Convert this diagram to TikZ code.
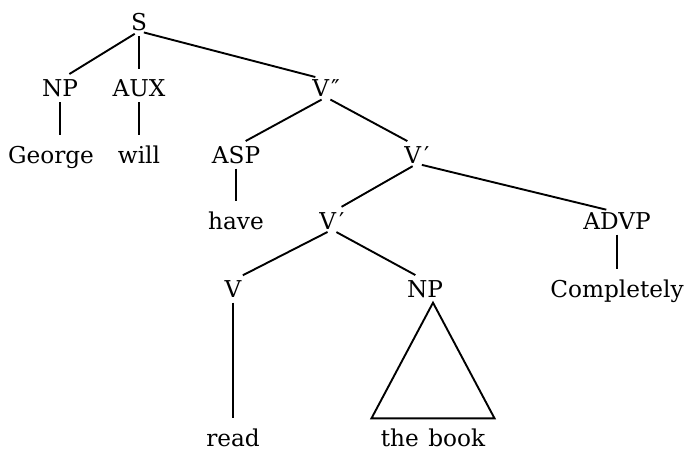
\documentclass[tikz,border=0pt]{standalone}
\usepackage{fontspec}
\setmainfont{DejaVu Serif}
\usetikzlibrary{calc}

\begin{document}
\begin{tikzpicture}[
                        x=0.5pt, y=-0.5pt,
                        label/.style={inner sep=0pt, text height=8.3pt, text depth=0pt,
                                      font=\fontsize{11.6}{13}\selectfont},
                        branch/.style={line width=0.95pt, shorten <=2.5pt, shorten >=5.5pt}
                    ]
                    \useasboundingbox (0,0) rectangle (685,454);
                    % Nodes
                    \node [label] (s) at (139,22.5) {S};
                    \node [label] (np) at (60,88.5) {NP};
                    \node [label] (aux) at (139,88.5) {AUX};
                    \node [label] (vbarbar) at (326,88.5) {V\kern1pt″};
                    \node [label] (george) at (51,155) {George};
                    \node [label] (will) at (139,155) {will};
                    \node [label] (asp) at (236,155) {ASP};
                    \node [label] (vbar) at (417,155) {V\kern1.5pt′};
                    \node [label] (have) at (236,221) {have};
                    \node [label] (vbarlow) at (332,221) {V\kern1.5pt′};
                    \node [label] (advp) at (617,221) {ADVP};
                    \node [label] (v) at (233,289) {V};
                    \node [label] (npobj) at (425,289) {NP};
                    \node [label] (completely) at (617,289) {Completely};
                    \node [label] (read) at (233,438) {read};
                    \node [label] (book) at (433,438) {the\kern1pt{} book};

                    % Branches
                    \draw [branch] (s.south) -- (np.north);
                    \draw [branch] (s.south) -- (aux.north);
                    \draw [branch] (s.south) -- (vbarbar.north);
                    \draw [branch] (np.south) -- (np.south |- george.north);
                    \draw [branch] (aux.south) -- (aux.south |- will.north);
                    \draw [branch] (vbarbar.south) -- (asp.north);
                    \draw [branch] (vbarbar.south) -- (vbar.north);
                    \draw [branch] (asp.south) -- (asp.south |- have.north);
                    \draw [branch] (vbar.south) -- (vbarlow.north);
                    \draw [branch] (vbar.south) -- (advp.north);
                    \draw [branch] (advp.south) -- (advp.south |- completely.north);
                    \draw [branch] (vbarlow.south) -- (v.north);
                    \draw [branch] (vbarlow.south) -- (npobj.north);
                    \draw [branch] (v.south) -- (v.south |- read.north);

                    % Triangle
                    \coordinate (apex) at ($(book.north |- npobj.south)+(0,-2.5pt)$);
                    \coordinate (left) at ($(book.north)+(-30.75pt,5.5pt)$);
                    \coordinate (right) at ($(book.north)+(30.75pt,5.5pt)$);
                    \draw [line width=0.95pt] (apex) -- (left) -- (right) -- cycle;
                \end{tikzpicture}
\end{document}
